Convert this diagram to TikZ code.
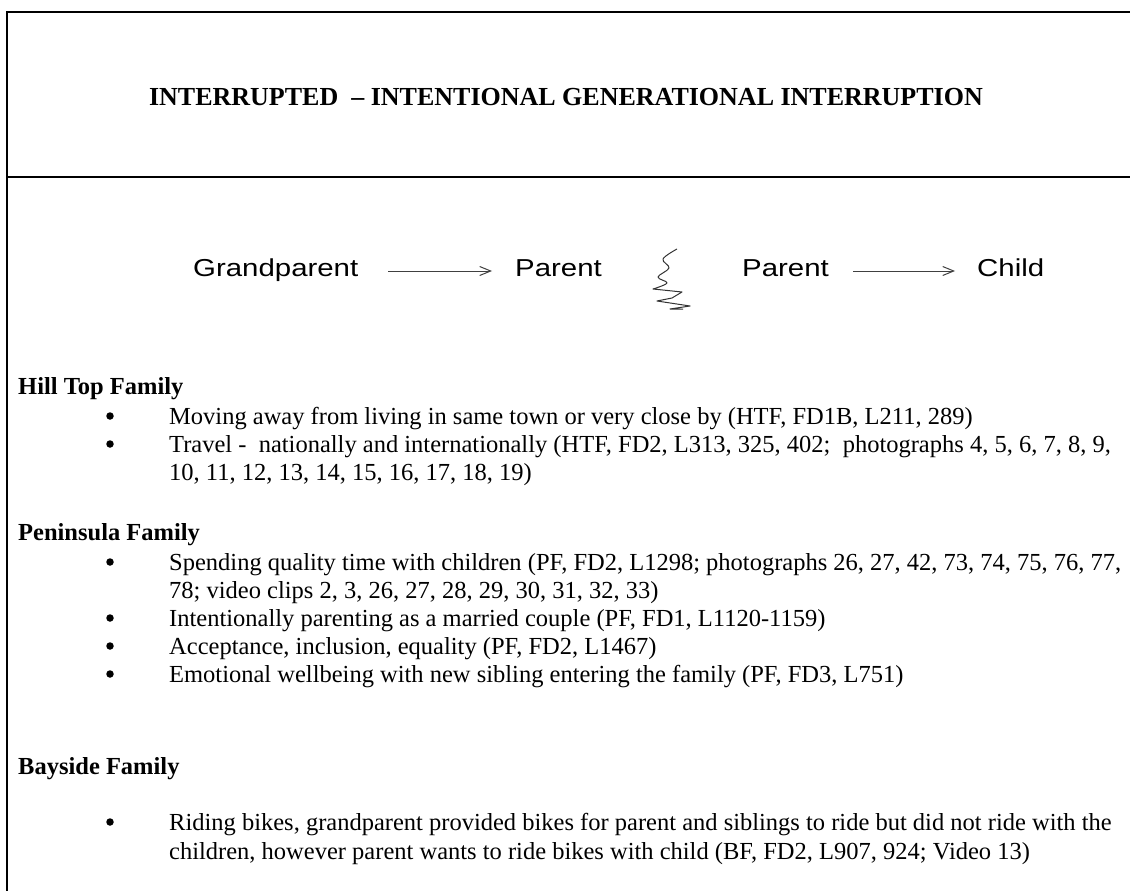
\documentclass[tikz,border=0pt]{standalone}
\usepackage{graphicx}
\usepackage{fontspec}
\setmainfont{Liberation Serif}
\newfontfamily\gensans{Liberation Sans}
\usetikzlibrary{arrows.meta}

\tikzset{
  frame/.style={line width=2.4pt, black},
  titletext/.style={inner sep=0pt, font=\fontsize{26}{30}\selectfont\bfseries},
  body/.style={anchor=base west, inner sep=0pt, font=\fontsize{24.5}{29}\selectfont},
  famhead/.style={body, font=\fontsize{24.5}{29}\selectfont\bfseries},
  gen/.style={anchor=base west, inner sep=0pt, font=\gensans\fontsize{24.5}{28}\selectfont},
  dot/.style={circle, fill=black, inner sep=0pt, minimum size=7.5pt},
  flow/.style={-{Straight Barb[length=11pt,width=9pt]}, line width=1pt, black!75},
  squiggle/.style={line width=1pt, black!80, line join=round},
}
\newcommand{\wide}[1]{\scalebox{1.2}[1]{#1}}

\begin{document}
\begin{tikzpicture}[x=1pt, y=-1pt]
\useasboundingbox (0,0) rectangle (1130,891);

% frame of the table
\draw[frame] (7,891) -- (7,12) -- (1130,12);
\draw[frame] (7,177) -- (1130,177);

% heading row
\node[titletext] (title) at (566,97) {INTERRUPTED\ \ – INTENTIONAL GENERATIONAL INTERRUPTION};

% generational chain
\node[gen] (gp) at (193,276) {\wide{Grandparent}};
\node[gen] (pa) at (515,276) {\wide{Parent}};
\node[gen] (pb) at (742,276) {\wide{Parent}};
\node[gen] (ch) at (977,276) {\wide{Child}};
\draw[flow] ([xshift=30pt,yshift=5pt]gp.base east) -- ([xshift=-23pt,yshift=5pt]pa.base west);
\draw[flow] ([xshift=24pt,yshift=5pt]pb.base east) -- ([xshift=-22pt,yshift=5pt]ch.base west);

% the break between the two generations
\draw[squiggle] plot[smooth, tension=0.6] coordinates {(677,249) (663,259) (669,268) (658,277) (667,283) (653,289)}
  -- (682,292) -- (672,298) -- (657,301) -- (690,306) -- (670,309) -- (683,309);

% Hill Top Family
\node[famhead] (htf) at (18,394) {Hill Top Family};
\node[dot] (h1d) at (110,416) {};
\node[body] (h1) at (169,424) {Moving away from living in same town or very close by (HTF, FD1B, L211, 289)};
\node[dot] (h2d) at (110,444) {};
\node[body] (h2) at (169,452) {Travel -\ \ nationally and internationally (HTF, FD2, L313, 325, 402;\ \ photographs 4, 5, 6, 7, 8, 9,};
\node[body] (h2b) at (169,480) {10, 11, 12, 13, 14, 15, 16, 17, 18, 19)};

% Peninsula Family
\node[famhead] (pf) at (18,540) {Peninsula Family};
\node[dot] (p1d) at (110,562) {};
\node[body] (p1) at (169,570) {Spending quality time with children (PF, FD2, L1298; photographs 26, 27, 42, 73, 74, 75, 76, 77,};
\node[body] (p1b) at (169,598) {78; video clips 2, 3, 26, 27, 28, 29, 30, 31, 32, 33)};
\node[dot] (p2d) at (110,618) {};
\node[body] (p2) at (169,626) {Intentionally parenting as a married couple (PF, FD1, L1120-1159)};
\node[dot] (p3d) at (110,646) {};
\node[body] (p3) at (169,654) {Acceptance, inclusion, equality (PF, FD2, L1467)};
\node[dot] (p4d) at (110,674) {};
\node[body] (p4) at (169,682) {Emotional wellbeing with new sibling entering the family (PF, FD3, L751)};

% Bayside Family
\node[famhead] (bf) at (18,774) {Bayside Family};
\node[dot] (b1d) at (110,822) {};
\node[body] (b1) at (169,830) {Riding bikes, grandparent provided bikes for parent and siblings to ride but did not ride with the};
\node[body] (b1b) at (169,859) {children, however parent wants to ride bikes with child (BF, FD2, L907, 924; Video 13)};
\end{tikzpicture}
\end{document}
